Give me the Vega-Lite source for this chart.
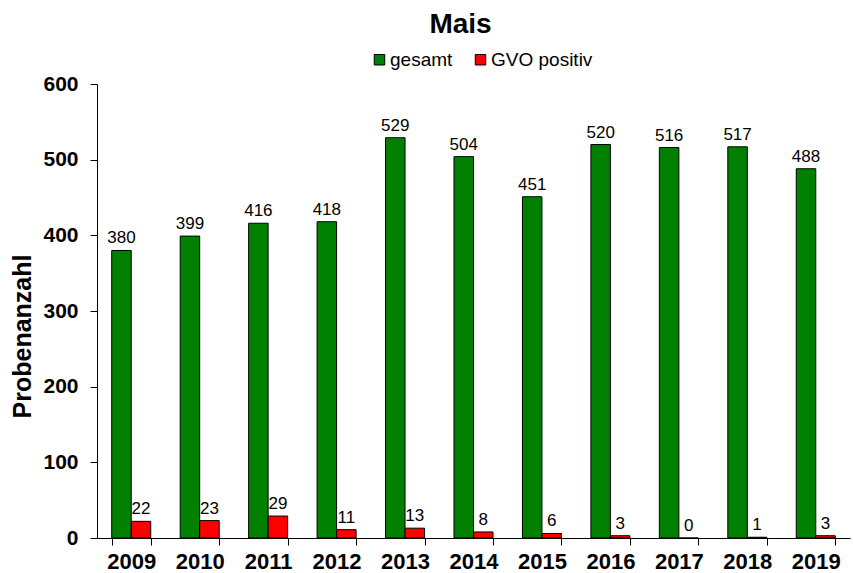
{
  "$schema": "https://vega.github.io/schema/vega-lite/v6.json",
  "width": 753,
  "height": 454,
  "autosize": "none",
  "padding": {"left": 97, "top": 84, "right": 3, "bottom": 35},
  "background": "white",
  "title": {"text": "Mais", "fontSize": 28, "font": "Liberation Sans", "fontWeight": "bold", "color": "black", "anchor": "middle", "dx": -13, "offset": 11},
  "data": {"values": [
    {"year": "2009", "series": "gesamt", "value": 380},
    {"year": "2009", "series": "GVO positiv", "value": 22},
    {"year": "2010", "series": "gesamt", "value": 399},
    {"year": "2010", "series": "GVO positiv", "value": 23},
    {"year": "2011", "series": "gesamt", "value": 416},
    {"year": "2011", "series": "GVO positiv", "value": 29},
    {"year": "2012", "series": "gesamt", "value": 418},
    {"year": "2012", "series": "GVO positiv", "value": 11},
    {"year": "2013", "series": "gesamt", "value": 529},
    {"year": "2013", "series": "GVO positiv", "value": 13},
    {"year": "2014", "series": "gesamt", "value": 504},
    {"year": "2014", "series": "GVO positiv", "value": 8},
    {"year": "2015", "series": "gesamt", "value": 451},
    {"year": "2015", "series": "GVO positiv", "value": 6},
    {"year": "2016", "series": "gesamt", "value": 520},
    {"year": "2016", "series": "GVO positiv", "value": 3},
    {"year": "2017", "series": "gesamt", "value": 516},
    {"year": "2017", "series": "GVO positiv", "value": 0},
    {"year": "2018", "series": "gesamt", "value": 517},
    {"year": "2018", "series": "GVO positiv", "value": 1},
    {"year": "2019", "series": "gesamt", "value": 488},
    {"year": "2019", "series": "GVO positiv", "value": 3}
  ]},
  "encoding": {
    "x": {
      "field": "year", "type": "nominal",
      "scale": {"paddingInner": 0.43, "paddingOuter": 0.215},
      "axis": {"title": null, "labelAngle": 0, "tickBand": "extent", "tickSize": 7, "domainColor": "black", "tickColor": "black", "labelFontSize": 22, "labelFontWeight": "bold", "labelFont": "Liberation Sans", "labelColor": "black", "labelPadding": 6}
    },
    "xOffset": {"field": "series", "type": "nominal", "sort": ["gesamt", "GVO positiv"], "scale": {"paddingInner": 0}},
    "y": {
      "field": "value", "type": "quantitative",
      "scale": {"domain": [0, 600]},
      "axis": {"title": "Probenanzahl", "titleFontSize": 25, "titleFont": "Liberation Sans", "titleFontWeight": "bold", "titleColor": "black", "titleAngle": -90, "titleX": -75, "titleY": 252, "titleBaseline": "middle", "titleAlign": "center", "values": [0, 100, 200, 300, 400, 500, 600], "grid": false, "domainColor": "black", "tickColor": "black", "tickSize": 7, "labelFontSize": 21, "labelFont": "Liberation Sans", "labelFontWeight": "bold", "labelColor": "black", "labelPadding": 12}
    }
  },
  "layer": [
    {
      "mark": {"type": "bar", "stroke": "black", "strokeWidth": 1},
      "encoding": {
        "color": {
          "field": "series", "type": "nominal",
          "scale": {"domain": ["gesamt", "GVO positiv"], "range": ["#008000", "#ff0000"]},
          "legend": {"title": null, "orient": "none", "legendX": 273, "legendY": -34, "direction": "horizontal", "symbolType": "square", "symbolSize": 110, "symbolStrokeColor": "black", "symbolStrokeWidth": 1, "symbolOpacity": 1, "labelFontSize": 19, "labelFont": "Liberation Sans", "labelColor": "black", "columnPadding": 18, "labelOffset": 1}
        }
      }
    },
    {
      "mark": {"type": "text", "dy": -7, "fontSize": 17, "font": "Liberation Sans", "baseline": "alphabetic", "color": "black"},
      "encoding": {"text": {"field": "value", "type": "quantitative"}}
    }
  ],
  "config": {"view": {"stroke": null}}
}
